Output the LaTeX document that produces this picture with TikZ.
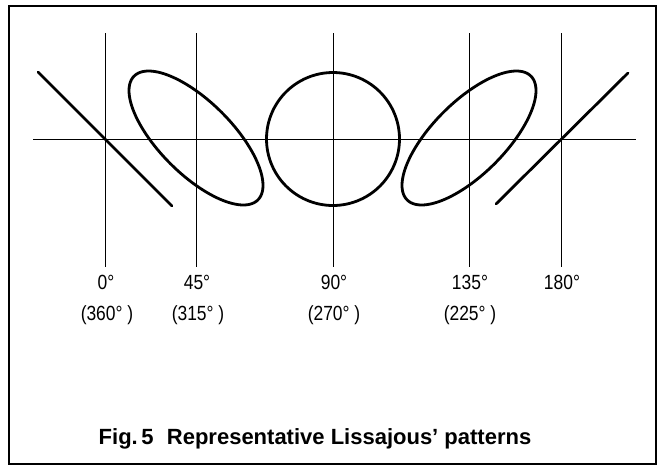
\documentclass[tikz,border=0pt]{standalone}
\usepackage{fontspec}
\setmainfont{Liberation Sans}
\newfontfamily\lblfont[FakeStretch=0.85]{Liberation Sans}
\begin{document}
\begin{tikzpicture}[x=1pt,y=-1pt,
  frame/.style={line width=1.6pt},
  axis/.style={line width=0.8pt},
  curve/.style={line width=2.8pt,line cap=round,line join=round},
  lbl/.style={anchor=base,inner sep=0pt,font=\lblfont\fontsize{20.5}{24}\selectfont},
  captxt/.style={anchor=base,inner sep=0pt,font=\fontsize{22}{26}\selectfont\bfseries}]
\useasboundingbox (0,0) rectangle (658,466);
\fill[white] (0,0) rectangle (658,466);
\draw[frame] (9,6) rectangle (656,464);
% axes
\coordinate (hl) at (33,139);
\coordinate (hr) at (636,139);
\draw[axis] (hl) -- (hr);
\foreach \n/\xx in {a/105,b/196,c/333,d/469,e/561}{
  \coordinate (\n t) at (\xx,33);
  \coordinate (\n b) at (\xx,267);
  \draw[axis] (\n t) -- (\n b);
}
% Lissajous patterns
\draw[curve] ({105-67},{139-67}) -- ({105+67},{139+67});
\draw[curve] plot[domain=0:360,samples=120,smooth cycle] ({196+67*sin(\x)},{138+67*sin(\x+45)});
\draw[curve] plot[domain=0:360,samples=120,smooth cycle] ({333+66.5*sin(\x)},{139+66.5*sin(\x+90)});
\draw[curve] plot[domain=0:360,samples=120,smooth cycle] ({469+67*sin(\x)},{138+67*sin(\x+135)});
\draw[curve] ({561-65},{139+65}) -- ({561+67},{139-66});
% labels
\node[lbl] (l0) at (106,289) {0°};
\node[lbl] (l45) at (197,289) {45°};
\node[lbl] (l90) at (334,289) {90°};
\node[lbl] (l135) at (470,289) {135°};
\node[lbl] (l180) at (562,289) {180°};
\node[lbl] (m0) at (107,320) {(360° )};
\node[lbl] (m45) at (198,320) {(315° )};
\node[lbl] (m90) at (334,320) {(270° )};
\node[lbl] (m135) at (470,320) {(225° )};
\node[captxt] (caption) at (315,444) {Fig.\,5\hspace{0.6em}Representative Lissajous’ patterns};
\end{tikzpicture}
\end{document}
